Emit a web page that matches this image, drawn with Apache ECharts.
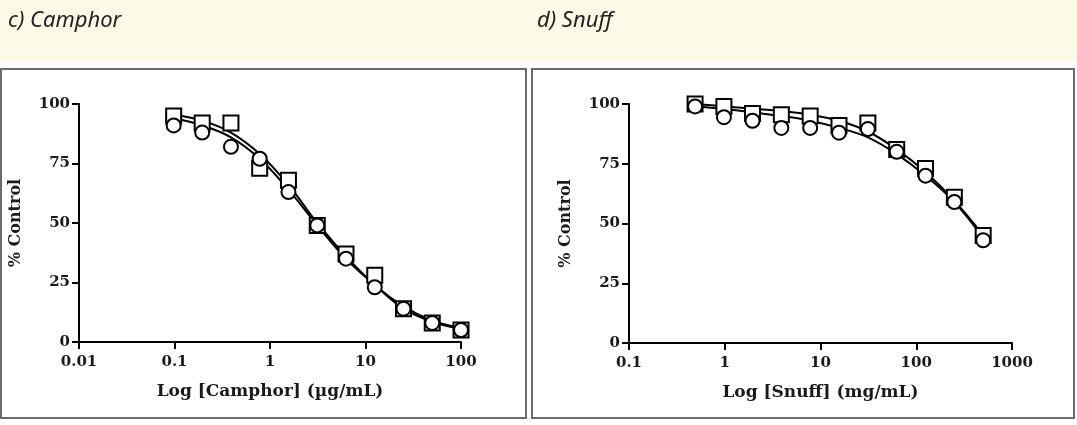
<!DOCTYPE html>
<html><head><meta charset="utf-8">
<script src="https://cdn.jsdelivr.net/npm/echarts@6/dist/echarts.min.js"></script>
<style>html,body{margin:0;padding:0;background:#fff;}#c{width:1077px;height:425px;}</style>
</head><body><div id="c"></div>
<script>
// Camphor panel
const camphorX = [0.098, 0.195, 0.39, 0.78, 1.56, 3.125, 6.25, 12.5, 25, 50, 100];
const camphorSquares = [95, 92, 92, 73, 68, 49, 37, 28, 14, 8, 5];
const camphorCircles = [91, 88, 82, 77, 63, 49, 35, 23, 14, 8, 5];
const camphorFitSquares = [95.5, 93, 88, 79, 66, 50, 36, 24, 15, 9, 6];
const camphorFitCircles = [94, 91, 86, 77, 64, 49, 35, 24, 14, 8.5, 5.5];
// Snuff panel
const snuffX = [0.49, 0.98, 1.95, 3.9, 7.8, 15.6, 31.25, 62.5, 125, 250, 500];
const snuffSquares = [100, 99, 96, 95.5, 95, 91, 92, 81, 73, 61, 45];
const snuffCircles = [99, 94.5, 93, 90, 90, 88, 89.5, 80, 70, 59, 43];
const snuffFitSquares = [100, 99, 98, 97, 95.5, 93, 88.5, 81, 71.5, 59.5, 45];
const snuffFitCircles = [99, 98, 96.5, 95, 93, 90, 86, 79, 70, 59, 44];
// Axis labels
const yTicks = [0, 25, 50, 75, 100];
const camphorXTicks = [0.01, 0.1, 1, 10, 100];
const snuffXTicks = [0.1, 1, 10, 100, 1000];
const titles = ['c) Camphor', 'd) Snuff'];
const xNames = ['Log [Camphor] (\u00b5g/mL)', 'Log [Snuff] (mg/mL)'];
const yName = '% Control';

const chart = echarts.init(document.getElementById('c'));
const serif = 'DejaVu Serif';
const tc = '#1a1a1a';
function pairs(xs, ys){ return xs.map((x,i)=>[x, ys[i]]); }
function fmt(v){ return String(+v.toPrecision(6)); }

function xAxis(idx, ticks){
  return {
    type:'log', logBase:10, gridIndex:idx, min:ticks[0], max:ticks[ticks.length-1],
    name:xNames[idx], nameLocation:'middle', nameGap:41,
    nameTextStyle:{fontFamily:serif, fontWeight:'bold', fontSize:17, color:tc},
    axisLine:{onZero:false, lineStyle:{color:'#000', width:2}},
    axisTick:{show:true, length:7, lineStyle:{color:'#000', width:2}},
    minorTick:{show:false}, splitLine:{show:false},
    axisLabel:{fontFamily:serif, fontWeight:'bold', fontSize:15, color:tc, margin:13, formatter:fmt}
  };
}
function yAxis(idx){
  return {
    type:'value', gridIndex:idx, min:yTicks[0], max:yTicks[yTicks.length-1], interval:25,
    name:yName, nameLocation:'middle', nameGap:55, nameRotate:90,
    nameTextStyle:{fontFamily:serif, fontWeight:'bold', fontSize:16, color:tc},
    axisLine:{show:true, lineStyle:{color:'#000', width:2}},
    axisTick:{show:true, length:7, lineStyle:{color:'#000', width:2}},
    splitLine:{show:false},
    axisLabel:{fontFamily:serif, fontWeight:'bold', fontSize:15, color:tc, margin:9}
  };
}
function lineS(i, xs, ys){
  return {type:'line', xAxisIndex:i, yAxisIndex:i, data:pairs(xs,ys), smooth:0.4, symbol:'none',
    lineStyle:{color:'#000', width:2}, z:2, silent:true};
}
function scat(i, xs, ys, sym, size){
  return {type:'scatter', xAxisIndex:i, yAxisIndex:i, data:pairs(xs,ys), symbol:sym, symbolSize:size,
    itemStyle:{color:'#fff', borderColor:'#000', borderWidth:2, opacity:1}, z:3, silent:true};
}

chart.setOption({
  animation:false,
  graphic:[
    {type:'rect', shape:{x:0,y:0,width:1077,height:62}, style:{fill:'#fdf9e7'}, z:-10},
    {type:'text', left:8, top:10, style:{text:titles[0], fontFamily:'Noto Sans', fontStyle:'italic', fontSize:22, fill:'#222'}},
    {type:'text', left:537, top:10, style:{text:titles[1], fontFamily:'Noto Sans', fontStyle:'italic', fontSize:22, fill:'#222'}},
    {type:'rect', shape:{x:1,y:69,width:525,height:349}, style:{fill:'none', stroke:'#6a6a6a', lineWidth:2}, z:-5},
    {type:'rect', shape:{x:532,y:69,width:542,height:349}, style:{fill:'none', stroke:'#6a6a6a', lineWidth:2}, z:-5}
  ],
  grid:[
    {left:79, width:382, top:104, height:238},
    {left:629, width:383, top:104, height:239}
  ],
  xAxis:[xAxis(0, camphorXTicks), xAxis(1, snuffXTicks)],
  yAxis:[yAxis(0), yAxis(1)],
  series:[
    lineS(0, camphorX, camphorFitSquares),
    lineS(0, camphorX, camphorFitCircles),
    scat(0, camphorX, camphorSquares, 'rect', 15),
    scat(0, camphorX, camphorCircles, 'circle', 14),
    lineS(1, snuffX, snuffFitSquares),
    lineS(1, snuffX, snuffFitCircles),
    scat(1, snuffX, snuffSquares, 'rect', 15),
    scat(1, snuffX, snuffCircles, 'circle', 14)
  ]
});
</script></body></html>
